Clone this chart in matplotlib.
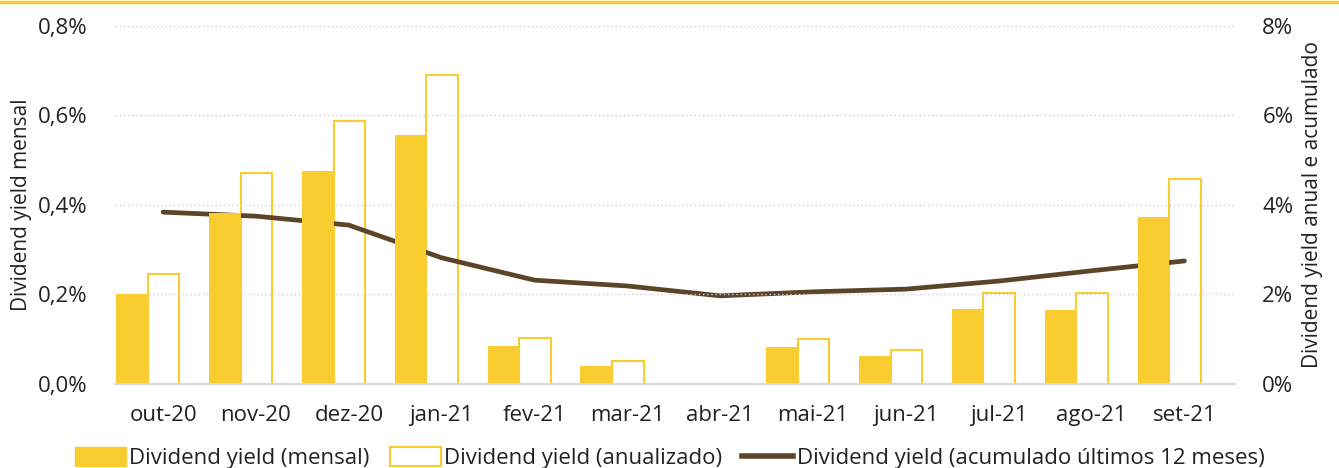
import numpy as np
import matplotlib.pyplot as plt
from matplotlib.lines import Line2D
from matplotlib.patches import Patch

meses = ['out-20', 'nov-20', 'dez-20', 'jan-21', 'fev-21', 'mar-21',
         'abr-21', 'mai-21', 'jun-21', 'jul-21', 'ago-21', 'set-21']
# % ao mes (eixo esquerdo)
dy_mensal = [0.201, 0.382, 0.476, 0.557, 0.085, 0.040,
             0.0, 0.083, 0.063, 0.168, 0.166, 0.373]
# % ao ano (eixo direito)
dy_anualizado = [2.46, 4.72, 5.88, 6.91, 1.03, 0.51,
                 0.0, 1.00, 0.76, 2.03, 2.03, 4.58]
dy_12m = [3.84, 3.75, 3.55, 2.82, 2.32, 2.19,
          1.97, 2.06, 2.12, 2.30, 2.53, 2.75]

amarelo = '#F9CC30'
marrom = '#5B4428'
plt.rcParams['font.family'] = ['Open Sans', 'DejaVu Sans']

fig = plt.figure(figsize=(13.39, 4.68), dpi=100)
ax = fig.add_axes([0.086, 0.1795, 0.836, 0.765])
ax2 = ax.twinx()

x = np.arange(len(meses))
w = 0.34
ax.bar(x - 0.335, dy_mensal, width=w, color=amarelo, zorder=2)
ax2.bar(x + 0.005, dy_anualizado, width=w, color='white', edgecolor=amarelo,
        linewidth=1.5, zorder=2)
ax2.plot(x, dy_12m, color=marrom, linewidth=3.4, solid_capstyle='round', zorder=3)

ax.set_xlim(-0.517, 11.54)
ax.set_ylim(0, 0.8)
ax2.set_ylim(0, 8)
ax.set_yticks([0, 0.2, 0.4, 0.6, 0.8])
ax.set_yticklabels(['0,0%', '0,2%', '0,4%', '0,6%', '0,8%'])
ax2.set_yticks([0, 2, 4, 6, 8])
ax2.set_yticklabels(['0%', '2%', '4%', '6%', '8%'])
ax.set_xticks(x)
ax.set_xticklabels(meses)

for a in (ax, ax2):
    for s in ['top', 'right', 'left']:
        a.spines[s].set_visible(False)
    a.spines['bottom'].set_color('#d9d9d9')
    a.spines['bottom'].set_linewidth(1.5)
    a.tick_params(length=0, labelsize=16, colors='#222222')
ax.tick_params(axis='x', pad=15)
ax.tick_params(axis='y', pad=20)
ax2.tick_params(axis='y', pad=20)

ax.grid(axis='y', color='#cccccc', linestyle=(0, (1, 2)), linewidth=1, zorder=0)
ax.set_axisbelow(True)
ax.set_zorder(ax2.get_zorder() + 1)
ax.patch.set_visible(False)

ax.set_ylabel('Dividend yield mensal', fontsize=15, labelpad=4, color='#222222')
ax2.set_ylabel('Dividend yield anual e acumulado', fontsize=15, labelpad=6,
               color='#222222')

fig.add_artist(Line2D([0, 1], [0.995, 0.995], color=amarelo, linewidth=2.5))

handles = [Patch(facecolor=amarelo, edgecolor=amarelo),
           Patch(facecolor='white', edgecolor=amarelo, linewidth=1.5),
           Line2D([0], [0], color=marrom, linewidth=4)]
labels = ['Dividend yield (mensal)', 'Dividend yield (anualizado)',
          'Dividend yield (acumulado últimos 12 meses)']
leg = fig.legend(handles, labels, loc='lower center', bbox_to_anchor=(0.5, -0.045),
                 ncol=3, frameon=False, fontsize=16, handlelength=2.3,
                 handleheight=0.9, handletextpad=0.15, columnspacing=0.9)
for t in leg.get_texts():
    t.set_color('#222222')

fig.savefig('out.png', dpi=100)
